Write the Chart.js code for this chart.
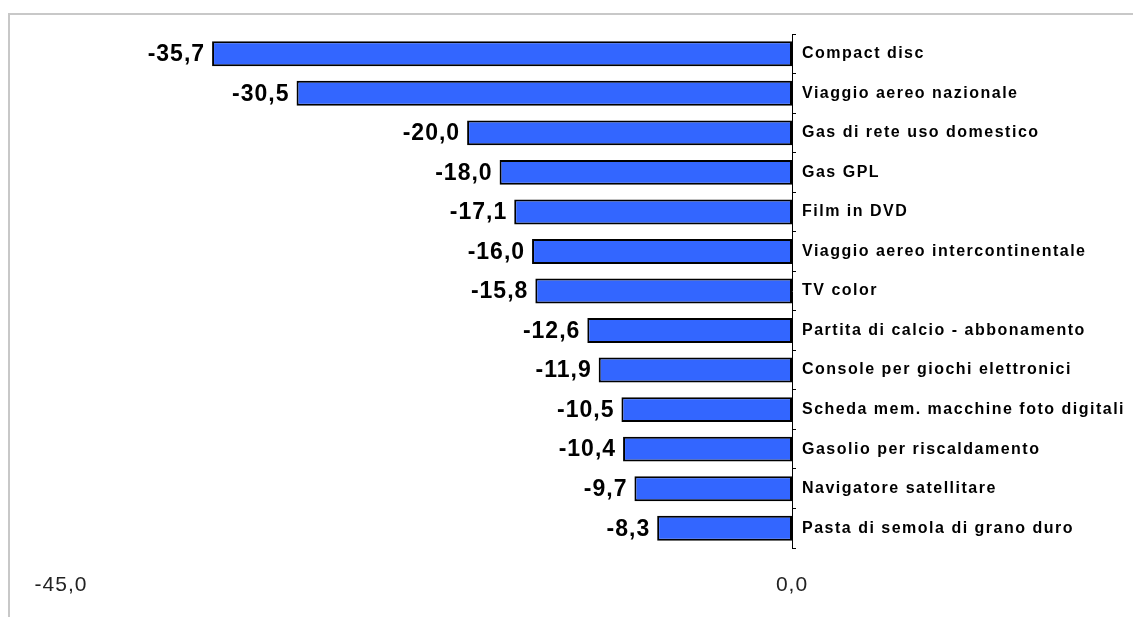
<!DOCTYPE html>
<html>
<head>
<meta charset="utf-8">
<script src="https://cdn.jsdelivr.net/npm/chart.js@4"></script>
<style>
  html, body { margin: 0; padding: 0; background: #fff; overflow: hidden; }
  #wrap { position: relative; width: 1133px; height: 617px; }
  #frame { position: absolute; left: 8px; top: 13px; right: -10px; bottom: -10px;
           border-top: 2px solid #c8c8c8; border-left: 2px solid #c8c8c8; }
  #myChart { position: absolute; left: 0; top: 0; }
</style>
</head>
<body>
<div id="wrap">
  <div id="frame"></div>
  <canvas id="myChart" width="1133" height="617"></canvas>
</div>
<script>
var categories = [
    'Compact disc',
    'Viaggio aereo nazionale',
    'Gas di rete uso domestico',
    'Gas GPL',
    'Film in DVD',
    'Viaggio aereo intercontinentale',
    'TV color',
    'Partita di calcio - abbonamento',
    'Console per giochi elettronici',
    'Scheda mem. macchine foto digitali',
    'Gasolio per riscaldamento',
    'Navigatore satellitare',
    'Pasta di semola di grano duro'
];
var variations = [-35.7, -30.5, -20.0, -18.0, -17.1, -16.0, -15.8, -12.6, -11.9, -10.5, -10.4, -9.7, -8.3];
var axisMin = -45;
var axisMax = 0;

function fmt(v) {
    return v.toFixed(1).replace('.', ',');
}

// letter spacing for the category labels (drawn with the scales), off for the bars
var spacingPlugin = {
    id: 'spacing',
    beforeDraw: function(chart) {
        chart.ctx.letterSpacing = '1.5px';
    },
    beforeDatasetsDraw: function(chart) {
        chart.ctx.letterSpacing = '0px';
    },
    afterDatasetsDraw: function(chart) {
        var ctx = chart.ctx;
        var meta = chart.getDatasetMeta(0);
        ctx.save();
        ctx.letterSpacing = '1px';
        ctx.font = 'bold 23px "Liberation Sans", Arial, sans-serif';
        ctx.fillStyle = '#000';
        ctx.textAlign = 'right';
        ctx.textBaseline = 'middle';
        meta.data.forEach(function(bar, i) {
            ctx.fillText(fmt(variations[i]), bar.x - 7, bar.y + 1);
        });
        ctx.restore();
        ctx.letterSpacing = '1px';
    },
    afterDraw: function(chart) {
        chart.ctx.letterSpacing = '0px';
    }
};

var ctx = document.getElementById('myChart').getContext('2d');
var chart = new Chart(ctx, {
    type: 'bar',
    data: {
        labels: categories,
        datasets: [
            {
                data: variations,
                backgroundColor: 'rgb(51, 102, 255)',
                borderColor: '#000',
                borderWidth: 2,
                borderSkipped: false,
                barPercentage: 0.63,
                categoryPercentage: 1
            }
        ]
    },
    options: {
        indexAxis: 'y',
        responsive: false,
        animation: false,
        layout: {
            padding: { top: 34, left: 61, right: 0, bottom: 0 }
        },
        scales: {
            x: {
                min: axisMin,
                max: axisMax,
                grid: { display: false, drawTicks: false },
                border: { display: false },
                afterBuildTicks: function(scale) {
                    scale.ticks = [{ value: axisMin }, { value: axisMax }];
                },
                afterFit: function(scale) {
                    scale.height = 69;
                },
                ticks: {
                    z: 1,
                    padding: 25,
                    color: '#222',
                    font: { family: '"Liberation Sans", Arial, sans-serif', size: 21 },
                    callback: function(value) {
                        return fmt(value);
                    }
                }
            },
            y: {
                position: 'right',
                grid: {
                    display: true,
                    drawOnChartArea: false,
                    tickLength: 4,
                    color: '#000'
                },
                border: { display: true, color: '#000', width: 1 },
                afterFit: function(scale) {
                    scale.width = 341;
                },
                ticks: {
                    padding: 6,
                    color: '#000',
                    font: { family: '"Liberation Sans", Arial, sans-serif', size: 16, weight: 'bold' }
                }
            }
        },
        plugins: {
            legend: { display: false },
            tooltip: { enabled: false }
        }
    },
    plugins: [spacingPlugin]
});
</script>
</body>
</html>
